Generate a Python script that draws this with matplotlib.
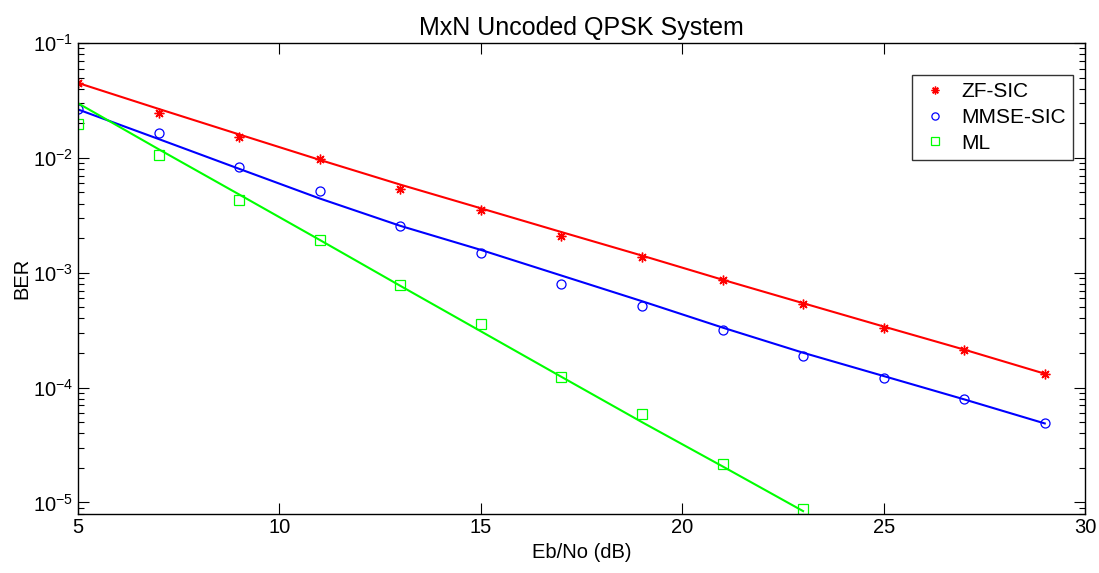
import matplotlib
matplotlib.use("Agg")
import matplotlib.pyplot as plt
from matplotlib.ticker import LogLocator, NullFormatter

plt.rcParams["font.family"] = ["Liberation Sans", "DejaVu Sans"]

# Eb/No points (dB)
ebno = [5, 7, 9, 11, 13, 15, 17, 19, 21, 23, 25, 27, 29]

# simulated BER (markers)
zf_sim = [4.52e-2, 2.45e-2, 1.53e-2, 9.73e-3, 5.35e-3, 3.53e-3, 2.10e-3,
          1.37e-3, 8.57e-4, 5.35e-4, 3.30e-4, 2.11e-4, 1.32e-4]
mmse_sim = [2.65e-2, 1.64e-2, 8.40e-3, 5.10e-3, 2.53e-3, 1.48e-3, 8.00e-4,
            5.09e-4, 3.15e-4, 1.90e-4, 1.21e-4, 7.87e-5, 4.90e-5]
ml_sim = [1.96e-2, 1.05e-2, 4.31e-3, 1.91e-3, 7.87e-4, 3.60e-4, 1.24e-4,
          5.94e-5, 2.14e-5, 8.80e-6]

# theoretical BER (lines)
zf_th = [4.49e-2, 2.67e-2, 1.60e-2, 9.61e-3, 5.85e-3, 3.64e-3, 2.26e-3,
         1.41e-3, 8.69e-4, 5.43e-4, 3.40e-4, 2.14e-4, 1.32e-4]
mmse_th = [2.64e-2, 1.46e-2, 8.03e-3, 4.43e-3, 2.56e-3, 1.58e-3, 9.45e-4,
           5.65e-4, 3.33e-4, 2.01e-4, 1.26e-4, 7.89e-5, 4.87e-5]
ml_th = [2.99e-2, 1.19e-2, 4.80e-3, 1.93e-3, 7.69e-4, 3.09e-4, 1.24e-4,
         5.00e-5, 2.06e-5, 8.40e-6]

fig = plt.figure(figsize=(10.99, 5.73), dpi=100)
ax = fig.add_axes([0.071, 0.1038, 0.9163, 0.8211])

asterisk = (8, 2, 0)
ax.semilogy(ebno, zf_sim, linestyle="none", marker=asterisk, color="#ff0000",
            markersize=7, markeredgewidth=1.0, label="ZF-SIC")
ax.semilogy(ebno, mmse_sim, linestyle="none", marker="o", mfc="none",
            mec="#0000ff", markersize=6.5, markeredgewidth=0.9, label="MMSE-SIC")
ax.semilogy(ebno[:len(ml_sim)], ml_sim, linestyle="none", marker="s", mfc="none",
            mec="#00ff00", markersize=6.5, markeredgewidth=0.9, label="ML")

ax.semilogy(ebno, zf_th, color="#ff0000", linewidth=1.5)
ax.semilogy(ebno, mmse_th, color="#0000ff", linewidth=1.5)
ax.semilogy(ebno[:len(ml_th)], ml_th, color="#00ff00", linewidth=1.5)

ax.set_xlim(5, 30)
ax.set_ylim(8.0e-6, 1e-1)
ax.set_xticks([5, 10, 15, 20, 25, 30])
ax.yaxis.set_major_locator(LogLocator(base=10, numticks=10))
ax.yaxis.set_minor_locator(LogLocator(base=10, subs=range(2, 10), numticks=20))
ax.yaxis.set_minor_formatter(NullFormatter())

ax.tick_params(which="both", direction="in", top=True, right=True,
               labelsize=14.5, width=0.8)
ax.tick_params(which="major", length=8)
ax.tick_params(which="minor", length=4.5)
for sp in ax.spines.values():
    sp.set_linewidth(1.0)

ax.set_xlabel("Eb/No (dB)", fontsize=14.5)
ax.set_ylabel("BER", fontsize=14.5, labelpad=1)
ax.set_title("MxN Uncoded QPSK System", fontsize=18, pad=6)

leg = ax.legend(loc="upper right", bbox_to_anchor=(0.9881, 0.932), fontsize=15,
                frameon=True, fancybox=False, edgecolor="black",
                borderpad=0.35, handletextpad=0.5, labelspacing=0.32,
                handlelength=1.5, borderaxespad=0, markerscale=0.8)
leg.get_frame().set_linewidth(1.0)

fig.savefig("out.png", dpi=100)
